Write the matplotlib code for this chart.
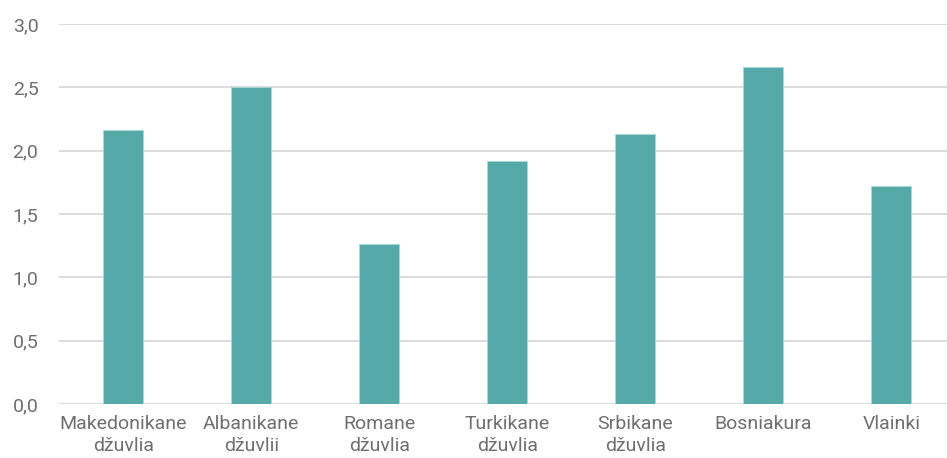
import matplotlib
matplotlib.use("Agg")
import matplotlib.pyplot as plt
from matplotlib.ticker import FixedLocator, FuncFormatter

categories = ["Makedonikane\ndžuvlia", "Albanikane\ndžuvlii", "Romane\ndžuvlia",
              "Turkikane\ndžuvlia", "Srbikane\ndžuvlia", "Bosniakura", "Vlainki"]
values = [2.16, 2.50, 1.26, 1.92, 2.13, 2.66, 1.72]
yticks = [0.0, 0.5, 1.0, 1.5, 2.0, 2.5, 3.0]

plt.rcParams['font.family'] = ['Roboto', 'DejaVu Sans']

fig = plt.figure(figsize=(9.47, 4.58), dpi=100)
W, H = 947, 458
ax = fig.add_axes([59.3 / W, (H - 404) / H, (955.3 - 59.3) / W, (404 - 24) / H])

x = list(range(len(categories)))
ax.bar(x, values, width=0.3125, color="#56A9A9", edgecolor="#A8D8D6", linewidth=0.6, zorder=3)

ax.set_xlim(-0.5, len(categories) - 0.5)
ax.set_ylim(0, 3.0)
ax.yaxis.set_major_locator(FixedLocator(yticks))
ax.yaxis.set_major_formatter(FuncFormatter(lambda v, p: f"{v:.1f}".replace(".", ",")))
ax.grid(axis="y", color="#D9D9D9", linewidth=1.3, zorder=0)
ax.set_xticks(x)
ax.set_xticklabels(categories, linespacing=1.3)
for s in ax.spines.values():
    s.set_visible(False)
ax.tick_params(axis="both", length=0, labelsize=14, colors="#6f6f6f")
ax.tick_params(axis="y", pad=15)
ax.tick_params(axis="x", pad=8)

fig.savefig("out.png", dpi=100)
